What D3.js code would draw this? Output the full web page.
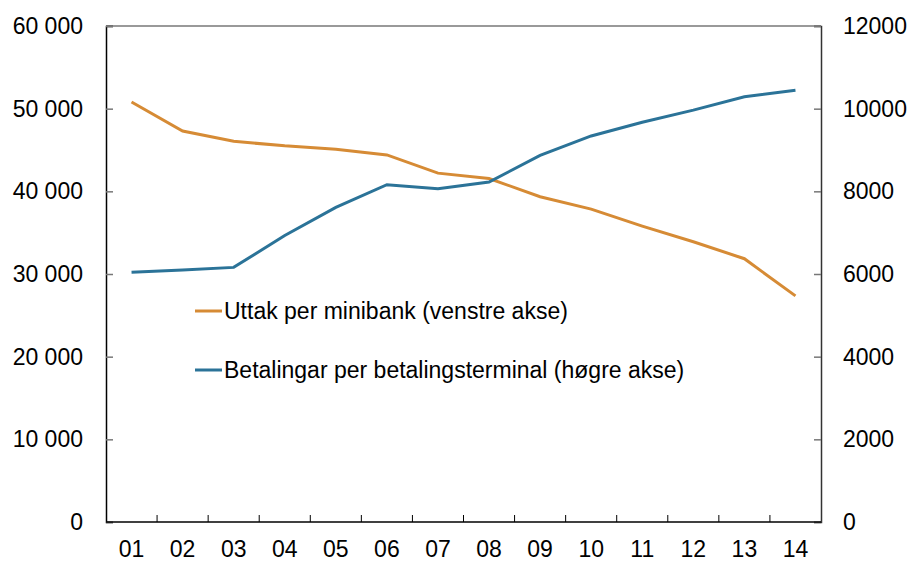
<!DOCTYPE html>
<html>
<head>
<meta charset="utf-8">
<script src="https://cdn.jsdelivr.net/npm/d3@7"></script>
<style>
  body { margin: 0; background: #fff; }
  svg text { font-family: "Liberation Sans", Arial, sans-serif; fill: #000; }
</style>
</head>
<body>
<div id="chart"></div>
<script>
// categories (years)
var years = ["01", "02", "03", "04", "05", "06", "07", "08", "09", "10", "11", "12", "13", "14"];
// withdrawals per ATM (left axis)
var uttak = [50800, 47300, 46050, 45500, 45100, 44400, 42200, 41550, 39350, 37850, 35800, 33900, 31850, 27350];
// payments per terminal (right axis)
var betalingar = [6040, 6095, 6160, 6930, 7610, 8160, 8065, 8225, 8870, 9340, 9670, 9965, 10290, 10445];
var leftTicks = [0, 10000, 20000, 30000, 40000, 50000, 60000];
var rightTicks = [0, 2000, 4000, 6000, 8000, 10000, 12000];
var legendLabels = ["Uttak per minibank (venstre akse)", "Betalingar per betalingsterminal (høgre akse)"];

var width = 909, height = 561;
var margin = {top: 26, right: 88, bottom: 39, left: 106};
var w = width - margin.left - margin.right,
    h = height - margin.top - margin.bottom;

var orange = "#d68b35", blue = "#2b7398";
var fs = "23px";

var svg = d3.select("#chart").append("svg")
    .attr("width", width)
    .attr("height", height);

var g = svg.append("g")
    .attr("transform", "translate(" + margin.left + "," + margin.top + ")");

var x = d3.scaleBand().domain(years).range([0, w]);
var yL = d3.scaleLinear().domain([0, 60000]).range([h, 0]);
var yR = d3.scaleLinear().domain([0, 12000]).range([h, 0]);

function fmtLeft(d) {
    // space as thousands separator
    return d == 0 ? "0" : d3.format(",")(d).replace(/,/g, " ");
}

// top border
g.append("line")
    .attr("x1", 0).attr("x2", w).attr("y1", 0).attr("y2", 0)
    .attr("stroke", "#777").attr("stroke-width", 1.5);

// left axis
var left = g.append("g")
    .call(d3.axisLeft(yL).tickValues(leftTicks).tickSize(-7).tickPadding(23).tickFormat(fmtLeft));
left.select(".domain").attr("stroke", "#000").attr("stroke-width", 1.5);
left.selectAll(".tick line").attr("stroke", "#777").attr("stroke-width", 1.5);
left.selectAll("text").attr("font-size", fs).attr("font-family", "Liberation Sans, Arial, sans-serif");

// right axis
var right = g.append("g")
    .attr("transform", "translate(" + w + ",0)")
    .call(d3.axisRight(yR).tickValues(rightTicks).tickSize(-7).tickPadding(22).tickFormat(d3.format("d")));
right.select(".domain").attr("stroke", "#333").attr("stroke-width", 1.5);
right.selectAll(".tick line").attr("stroke", "#777").attr("stroke-width", 1.5);
right.selectAll("text").attr("font-size", fs).attr("font-family", "Liberation Sans, Arial, sans-serif");

// bottom axis: ticks between categories, labels at centres
var bottom = g.append("g")
    .attr("transform", "translate(0," + h + ")")
    .call(d3.axisBottom(x).tickSize(0).tickPadding(19));
bottom.select(".domain").remove();
bottom.selectAll("text").attr("font-size", fs).attr("font-family", "Liberation Sans, Arial, sans-serif");

g.append("line")
    .attr("x1", 0).attr("x2", w).attr("y1", h).attr("y2", h)
    .attr("stroke", "#000").attr("stroke-width", 1.5);

g.selectAll(".xtick")
    .data(years.slice(1))
    .enter().append("line")
    .attr("class", "xtick")
    .attr("x1", function(d) { return x(d); })
    .attr("x2", function(d) { return x(d); })
    .attr("y1", h).attr("y2", h - 7)
    .attr("stroke", "#000").attr("stroke-width", 1);

// lines
var lineL = d3.line()
    .x(function(d, i) { return x(years[i]) + x.bandwidth() / 2; })
    .y(function(d) { return yL(d); });
var lineR = d3.line()
    .x(function(d, i) { return x(years[i]) + x.bandwidth() / 2; })
    .y(function(d) { return yR(d); });

g.append("path")
    .datum(uttak)
    .attr("fill", "none")
    .attr("stroke", orange)
    .attr("stroke-width", 3)
    .attr("d", lineL);

g.append("path")
    .datum(betalingar)
    .attr("fill", "none")
    .attr("stroke", blue)
    .attr("stroke-width", 3)
    .attr("d", lineR);

// legend
var legend = svg.append("g").attr("transform", "translate(195,311)");
var colors = [orange, blue];
legendLabels.forEach(function(lbl, i) {
    var row = legend.append("g").attr("transform", "translate(0," + (i * 59) + ")");
    row.append("line")
        .attr("x1", 0).attr("x2", 27).attr("y1", 0).attr("y2", 0)
        .attr("stroke", colors[i]).attr("stroke-width", 3);
    row.append("text")
        .attr("x", 29)
        .attr("y", 0)
        .attr("dy", "0.35em")
        .attr("font-size", fs)
        .text(lbl);
});
</script>
</body>
</html>
